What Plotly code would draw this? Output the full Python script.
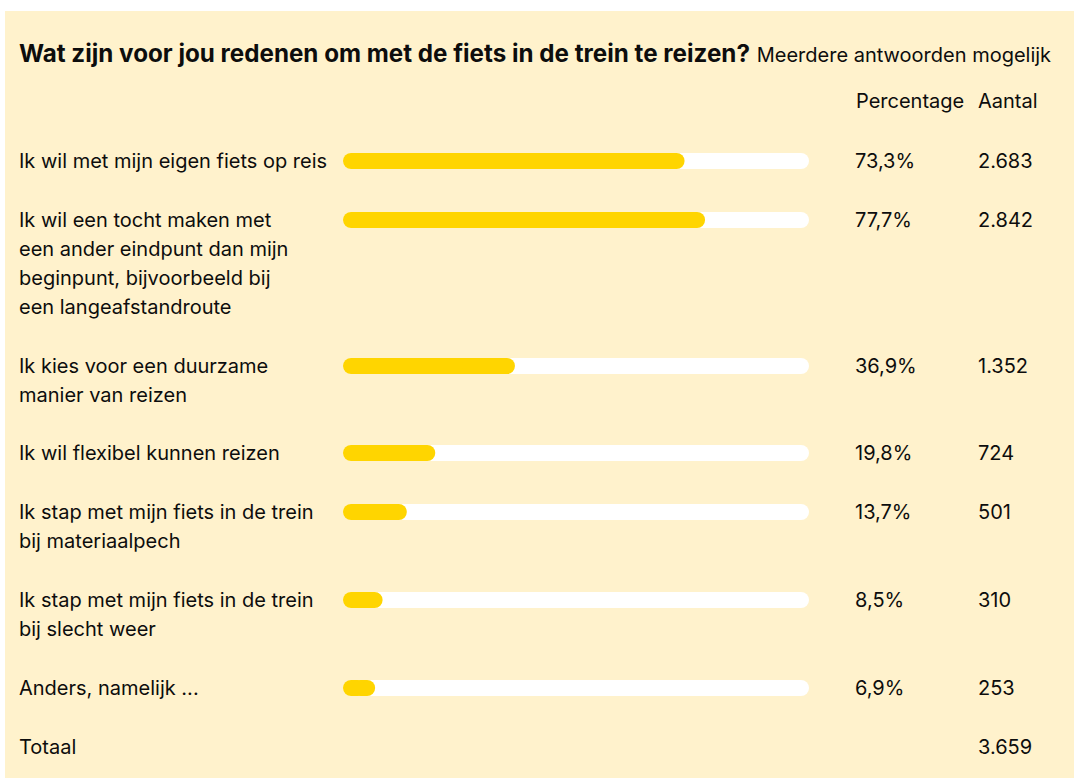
import plotly.graph_objects as go

W, H = 1074, 778

title = "Wat zijn voor jou redenen om met de fiets in de trein te reizen?"
subtitle = "Meerdere antwoorden mogelijk"
col_headers = ["Percentage", "Aantal"]

categories = [
    ["Ik wil met mijn eigen fiets op reis"],
    ["Ik wil een tocht maken met", "een ander eindpunt dan mijn",
     "beginpunt, bijvoorbeeld bij", "een langeafstandroute"],
    ["Ik kies voor een duurzame", "manier van reizen"],
    ["Ik wil flexibel kunnen reizen"],
    ["Ik stap met mijn fiets in de trein", "bij materiaalpech"],
    ["Ik stap met mijn fiets in de trein", "bij slecht weer"],
    ["Anders, namelijk ..."],
]
percentages = [73.3, 77.7, 36.9, 19.8, 13.7, 8.5, 6.9]
counts = [2683, 2842, 1352, 724, 501, 310, 253]
total_label = "Totaal"
total_count = 3659

BG = "#FFF2CC"
BAR = "#FFD500"
TRACK = "#FFFFFF"
TXT = "#0D0D0D"
FONT = "Inter, Noto Sans, sans-serif"
FS = 20

# layout (pixel units on the y axis)
first_row = 161
line_h = 29
row_gap = 58.8
bar_h = 16
bar_x0, bar_x1 = 343, 809
pct_x, cnt_x, label_x = 856, 979, 19.5

row_y = []
y = first_row
for lines in categories:
    row_y.append(round(y))
    y += (len(lines) - 1) * line_h + row_gap
total_y = round(y)

def nl_pct(v):
    return f"{v:.1f}".replace(".", ",") + "%"

def nl_int(v):
    return f"{v:,}".replace(",", ".")

fig = go.Figure()

n = len(percentages)
# track: two overlapping halves so both ends get rounded
fig.add_trace(go.Bar(y=row_y, x=[70] * n, base=[30] * n, orientation="h",
                     width=bar_h, marker=dict(color=TRACK, line=dict(width=0)),
                     hoverinfo="skip", showlegend=False))
fig.add_trace(go.Bar(y=row_y, x=[-70] * n, base=[70] * n, orientation="h",
                     width=bar_h, marker=dict(color=TRACK, line=dict(width=0)),
                     hoverinfo="skip", showlegend=False))
# value bars
fig.add_trace(go.Bar(y=row_y, x=[p * 0.7 for p in percentages], base=[p * 0.3 for p in percentages],
                     orientation="h", width=bar_h, marker=dict(color=BAR, line=dict(width=0)),
                     hoverinfo="skip", showlegend=False))
fig.add_trace(go.Bar(y=row_y, x=[-p * 0.7 for p in percentages], base=[p * 0.7 for p in percentages],
                     orientation="h", width=bar_h, marker=dict(color=BAR, line=dict(width=0)),
                     hoverinfo="skip", showlegend=False))

def txt(x, y, s, size=FS):
    return dict(x=x / W, y=y, xref="paper", yref="y", xanchor="left", yanchor="middle",
                xshift=-3, showarrow=False, text=s, font=dict(family=FONT, size=size, color=TXT))

ann = []
ann.append(txt(label_x, 53,
               f"<b>{title}</b> <span style='font-size:{FS}px;font-weight:normal'>{subtitle}</span>",
               size=24.2))
ann.append(txt(857, 101, col_headers[0]))
ann.append(txt(979, 101, col_headers[1]))

for lines, ry, p, c in zip(categories, row_y, percentages, counts):
    for i, ln in enumerate(lines):
        ann.append(txt(label_x, ry + i * line_h, ln))
    ann.append(txt(pct_x, ry, nl_pct(p)))
    ann.append(txt(cnt_x, ry, nl_int(c)))

ann.append(txt(label_x, total_y, total_label))
ann.append(txt(cnt_x, total_y, nl_int(total_count)))

fig.update_layout(
    width=W, height=H,
    margin=dict(l=0, r=0, t=0, b=0, pad=0),
    paper_bgcolor="white", plot_bgcolor="rgba(0,0,0,0)",
    barmode="overlay", barcornerradius=8,
    annotations=ann,
    shapes=[dict(type="rect", xref="paper", yref="paper", x0=5 / W, x1=1, y0=0, y1=1 - 11 / H,
                 fillcolor=BG, line=dict(width=0), layer="below")],
    xaxis=dict(domain=[bar_x0 / W, bar_x1 / W], range=[0, 100], visible=False, fixedrange=True),
    yaxis=dict(domain=[0, 1], range=[H, 0], visible=False, fixedrange=True),
    font=dict(family=FONT),
)

fig.write_html("out.html", config={"displayModeBar": False},
               post_script="document.body.style.margin='0';document.body.style.overflow='hidden';")
